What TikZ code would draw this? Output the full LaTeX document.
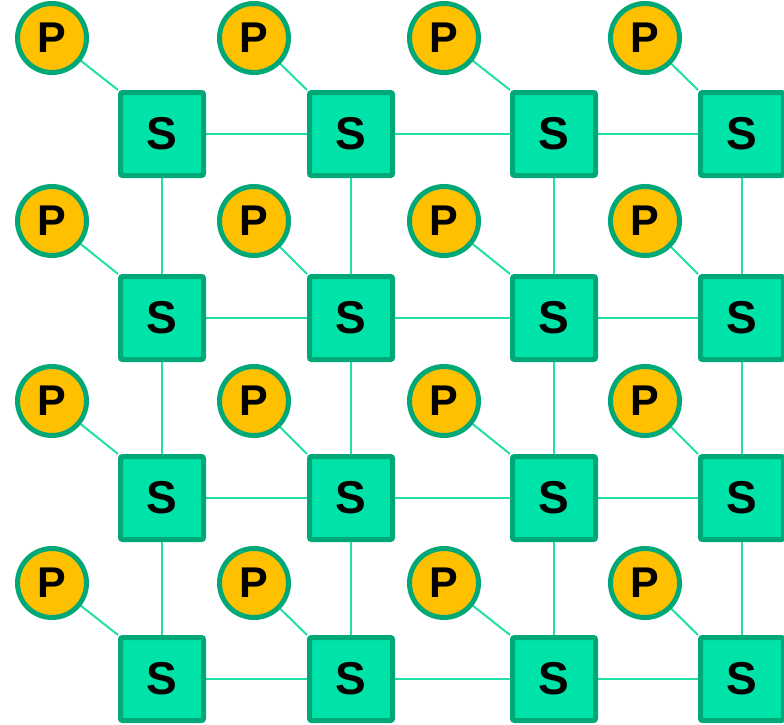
\documentclass[tikz,border=0pt]{standalone}
\usepackage{fontspec}
\setmainfont{Liberation Sans}
\definecolor{boxfill}{HTML}{00E3A8}
\definecolor{boxedge}{HTML}{00A878}
\definecolor{pfill}{HTML}{FFC000}
\definecolor{linkc}{HTML}{20E0A8}
\pgfdeclarelayer{bg}
\pgfsetlayers{bg,main}
\begin{document}
\begin{tikzpicture}[x=1pt,y=-1pt,
  sw/.style={draw=boxedge, fill=boxfill, line width=5pt, minimum width=83pt, minimum height=83pt, inner sep=0pt, rounded corners=2pt, font=\fontsize{46}{46}\selectfont\bfseries, text=black},
  pc/.style={circle, draw=boxedge, fill=pfill, line width=5pt, minimum size=69pt, inner sep=0pt, font=\fontsize{43}{43}\selectfont\bfseries, text=black},
  link/.style={draw=linkc, line width=2pt}]
\useasboundingbox (0,0) rectangle (784,725);
\def\colS{{162,351,554,742}}
\def\rowS{{134,318,498,679}}
\def\colP{{52,254,444,645}}
\def\rowP{{38,221,401,583}}
% nodes
\foreach \i in {0,1,2,3}{
  \foreach \j in {0,1,2,3}{
    \pgfmathsetmacro{\sx}{\colS[\i]}
    \pgfmathsetmacro{\sy}{\rowS[\j]}
    \pgfmathsetmacro{\px}{\colP[\i]}
    \pgfmathsetmacro{\py}{\rowP[\j]}
    \node[sw] (S\i\j) at (\sx,\sy) {S};
    \node[pc] (P\i\j) at (\px,\py) {P};
  }
}
% links
\begin{pgfonlayer}{bg}
\foreach \j in {0,1,2,3}{
  \draw[link] (S0\j) -- (S1\j) -- (S2\j) -- (S3\j);
}
\foreach \i in {0,1,2,3}{
  \draw[link] (S\i0) -- (S\i1) -- (S\i2) -- (S\i3);
}
\foreach \i in {0,1,2,3}{
  \foreach \j in {0,1,2,3}{
    \draw[link] (P\i\j.center) -- (S\i\j.north west);
  }
}
\end{pgfonlayer}
\end{tikzpicture}
\end{document}
